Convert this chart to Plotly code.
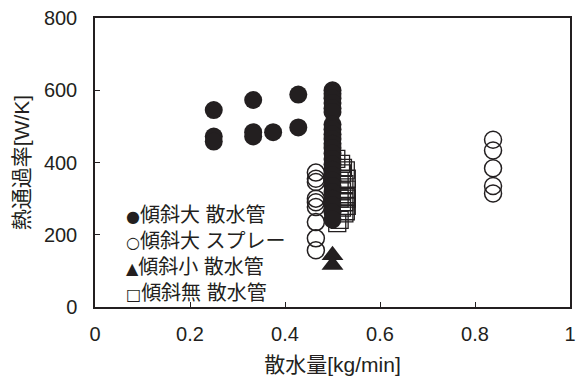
import plotly.graph_objects as go

# 傾斜大 散水管 (filled circles)
big_pipe_x = [0.25, 0.25, 0.25, 0.333, 0.333, 0.333, 0.375, 0.428, 0.428] + [0.5] * 24
big_pipe_y = [545, 472, 458, 573, 484, 472, 484, 588, 497,
              600, 590, 578, 565, 550, 540, 505, 492, 478, 465, 452, 440, 425,
              410, 395, 380, 365, 350, 335, 318, 300, 282, 262, 242]

# 傾斜大 スプレー (open circles)
big_spray_x = [0.465] * 9 + [0.838] * 5
big_spray_y = [372, 355, 346, 300, 290, 277, 235, 190, 157,
               463, 433, 384, 335, 314]

# 傾斜小 散水管 (triangles)
small_pipe_x = [0.5, 0.5]
small_pipe_y = [143, 116]

# 傾斜無 散水管 (open squares)
flat_pipe_x = [0.508, 0.518, 0.528, 0.522, 0.52, 0.53, 0.515, 0.525, 0.53, 0.52,
               0.528, 0.515, 0.525, 0.53, 0.52, 0.528, 0.525, 0.515, 0.51, 0.53]
flat_pipe_y = [410, 396, 378, 385, 370, 355, 350, 340, 325, 320,
               305, 300, 290, 280, 275, 265, 259, 241, 232, 300]

x_ticks = [0, 0.2, 0.4, 0.6, 0.8, 1]
x_tick_text = ["0", "0.2", "0.4", "0.6", "0.8", "1"]
y_ticks = [0, 200, 400, 600, 800]

legend_symbols = ["●", "○", "▲", "□"]
legend_labels = ["傾斜大 散水管", "傾斜大 スプレー", "傾斜小 散水管", "傾斜無 散水管"]

INK = "#231f20"
FONT = "Liberation Sans, Arial, Noto Sans CJK JP, sans-serif"

fig = go.Figure()
fig.add_trace(go.Scatter(x=flat_pipe_x, y=flat_pipe_y, mode="markers", name=legend_labels[3],
                         marker=dict(symbol="square-open", size=17, color=INK, line=dict(width=1.3)),
                         showlegend=False))
fig.add_trace(go.Scatter(x=big_spray_x, y=big_spray_y, mode="markers", name=legend_labels[1],
                         marker=dict(symbol="circle-open", size=17, color=INK, line=dict(width=1.5)),
                         showlegend=False))
fig.add_trace(go.Scatter(x=small_pipe_x, y=small_pipe_y, mode="markers", name=legend_labels[2],
                         marker=dict(symbol="triangle-up", size=19, color=INK),
                         showlegend=False))
fig.add_trace(go.Scatter(x=big_pipe_x, y=big_pipe_y, mode="markers", name=legend_labels[0],
                         marker=dict(symbol="circle", size=18, color=INK),
                         showlegend=False))

legend_text = "<br>".join(
    f'<span style="font-family:DejaVu Sans;font-size:16px">{s}</span>{t}'
    for s, t in zip(legend_symbols, legend_labels))
fig.add_annotation(xref="paper", yref="paper", x=0.06, y=0.364, xanchor="left", yanchor="top",
                   align="left", showarrow=False, text=legend_text,
                   font=dict(family=FONT, size=20, color=INK))

axis_common = dict(showline=True, linecolor=INK, linewidth=1.5, mirror=True,
                   ticks="inside", ticklen=5, tickwidth=1, tickcolor=INK,
                   showgrid=False, zeroline=False, automargin=False,
                   ticklabeloverflow="allow",
                   tickfont=dict(family=FONT, size=20, color=INK))

fig.update_xaxes(range=[0, 1], tickvals=x_ticks, ticktext=x_tick_text,
                 title=dict(text="散水量[kg/min]", font=dict(family=FONT, size=21, color=INK), standoff=14),
                 ticklabelstandoff=8, **axis_common)
fig.update_yaxes(range=[0, 800], tickvals=y_ticks,
                 title=dict(text="熱通過率[W/K]", font=dict(family=FONT, size=21, color=INK), standoff=9),
                 ticklabelstandoff=12, **axis_common)

# page body adds an 8px offset; margins compensate so the plot frame sits at x 95-570, y 18-307
fig.update_layout(width=585, height=378, margin=dict(l=87, r=23, t=10, b=79),
                  plot_bgcolor="white", paper_bgcolor="white", showlegend=False)

fig.write_html("out.html")
